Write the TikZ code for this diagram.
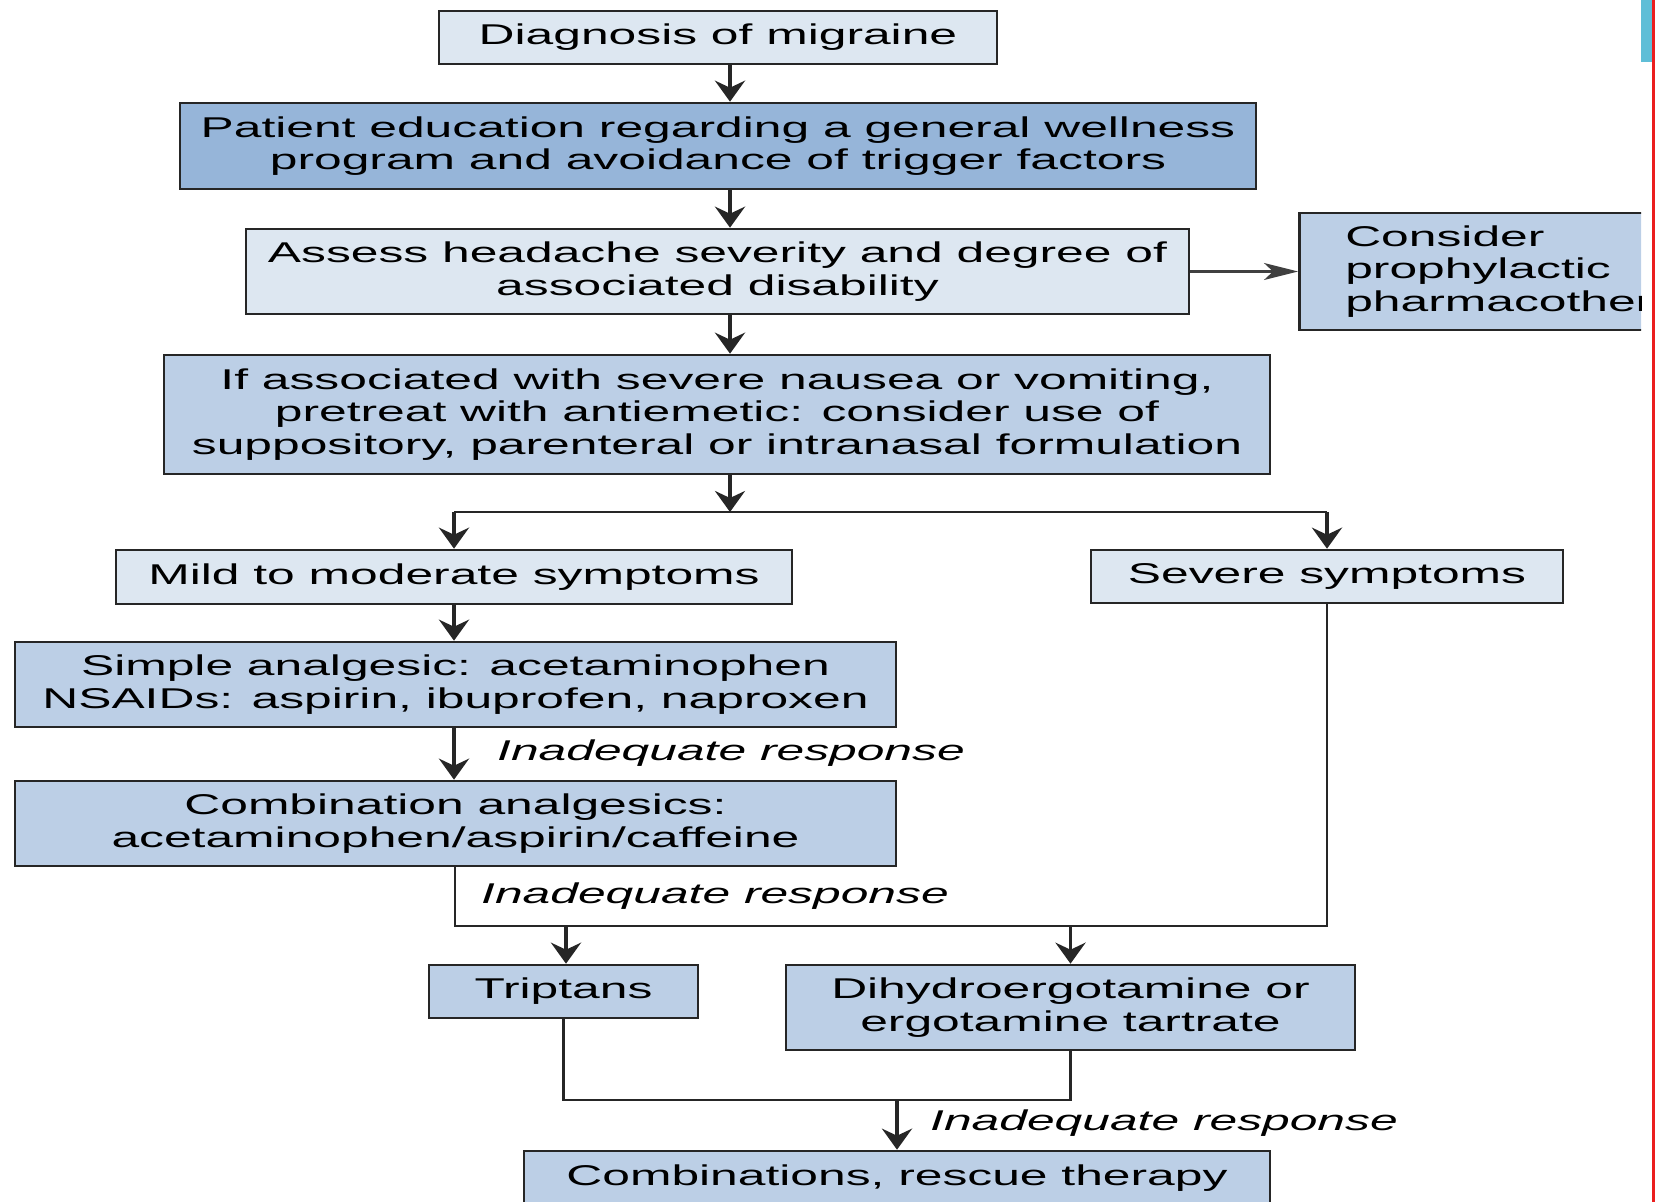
\documentclass[tikz,border=0pt]{standalone}
\usepackage{fontspec}
\setmainfont{Liberation Sans}[FakeStretch=1.74]
\usetikzlibrary{arrows.meta}
\definecolor{palebox}{RGB}{221,231,241}
\definecolor{midbox}{RGB}{188,207,230}
\definecolor{deepbox}{RGB}{150,181,217}
\definecolor{edgered}{RGB}{235,30,30}
\definecolor{edgecyan}{RGB}{95,190,215}
\begin{document}
\begin{tikzpicture}[x=1pt,y=-1pt,
    box/.style={draw=black!85, line width=2.6pt, inner sep=0pt, align=center,
                font=\fontsize{28.6}{32.5}\selectfont},
    pale/.style={box, fill=palebox},
    mid/.style={box, fill=midbox},
    deep/.style={box, fill=deepbox},
    link/.style={line width=2.6pt, draw=black!85},
    arr/.style={link, line width=3.6pt, -{Stealth[length=21pt,width=30pt,inset=7pt]}},
    sidearr/.style={link, line width=2.2pt, draw=black!75, -{Stealth[length=34pt,width=17pt,inset=9pt]}},
    note/.style={font=\fontsize{28.6}{32.5}\selectfont\itshape, inner sep=0pt, anchor=west}]
\useasboundingbox (0,0) rectangle (1658,1202);
\begin{scope}
\clip (0,0) rectangle (1641,1202);
\node[pale, minimum width=558pt, minimum height=53pt] (diag) at (718,37.5) {Diagnosis of migraine};
\node[deep, minimum width=1076pt, minimum height=86pt] (edu) at (718,146)
    {Patient education regarding a general wellness\\program and avoidance of trigger factors};
\node[pale, minimum width=943pt, minimum height=85pt] (assess) at (717.5,271.5)
    {Assess headache severity and degree of\\associated disability};
\node[mid, minimum width=420pt, minimum height=117pt, align=left, anchor=west,
      text width=374pt, inner xsep=46pt] (consider) at (1298,271.5)
    {Consider\\prophylactic\\pharmacotherapy};
\node[mid, minimum width=1106pt, minimum height=119pt] (nausea) at (717,414.5)
    {If associated with severe nausea or vomiting,\\pretreat with antiemetic: consider use of\\suppository, parenteral or intranasal formulation};
\node[pale, minimum width=676pt, minimum height=54pt] (mild) at (454,577) {Mild to moderate symptoms};
\node[pale, minimum width=472pt, minimum height=53pt] (severe) at (1327,576.5) {Severe symptoms};
\node[mid, minimum width=881pt, minimum height=85pt] (simple) at (455.5,684.5)
    {Simple analgesic: acetaminophen\\NSAIDs: aspirin, ibuprofen, naproxen};
\node[mid, minimum width=881pt, minimum height=85pt] (combo) at (455.5,823.5)
    {Combination analgesics:\\acetaminophen/aspirin/caffeine};
\node[mid, minimum width=269pt, minimum height=53pt] (triptans) at (563.5,991.5) {Triptans};
\node[mid, minimum width=569pt, minimum height=85pt] (ergot) at (1070.5,1007.5)
    {Dihydroergotamine or\\ergotamine tartrate};
\node[mid, minimum width=746pt, minimum height=54pt] (rescue) at (897,1178) {Combinations, rescue therapy};

\coordinate (spine) at (730,512);
\coordinate (join) at (455,926);
\coordinate (low) at (897,1100);

\draw[arr] (diag.south -| spine) -- (edu.north -| spine);
\draw[arr] (edu.south -| spine) -- (assess.north -| spine);
\draw[arr] (assess.south -| spine) -- (nausea.north -| spine);
\draw[sidearr] (assess.east) -- (consider.west);
\draw[arr] (nausea.south -| spine) -- (spine);
\draw[link] (mild.north |- spine) -- (severe.north |- spine);
\draw[arr] (mild.north |- spine) -- (mild.north);
\draw[arr] (severe.north |- spine) -- (severe.north);
\draw[arr] (mild.south) -- (mild.south |- simple.north);
\draw[arr] (simple.south -| mild.south) -- (combo.north -| mild.south);
\draw[link] (combo.south -| join) -- (join) -- (join -| severe.south) -- (severe.south);
\draw[arr] (join -| 566,0) -- (triptans.north -| 566,0);
\draw[arr] (join -| ergot.north) -- (ergot.north);
\draw[link] (triptans.south) |- (low) -| (ergot.south);
\draw[arr] (low) -- (rescue.north);

\node[note] (inad1) at (497,753) {Inadequate response};
\node[note] (inad2) at (481,896) {Inadequate response};
\node[note] (inad3) at (930,1123) {Inadequate response};
\end{scope}
\fill[edgecyan] (1641,0) rectangle (1652,62);
\draw[edgered, line width=3pt] (1653.5,0) -- (1653.5,1202);
\end{tikzpicture}
\end{document}
